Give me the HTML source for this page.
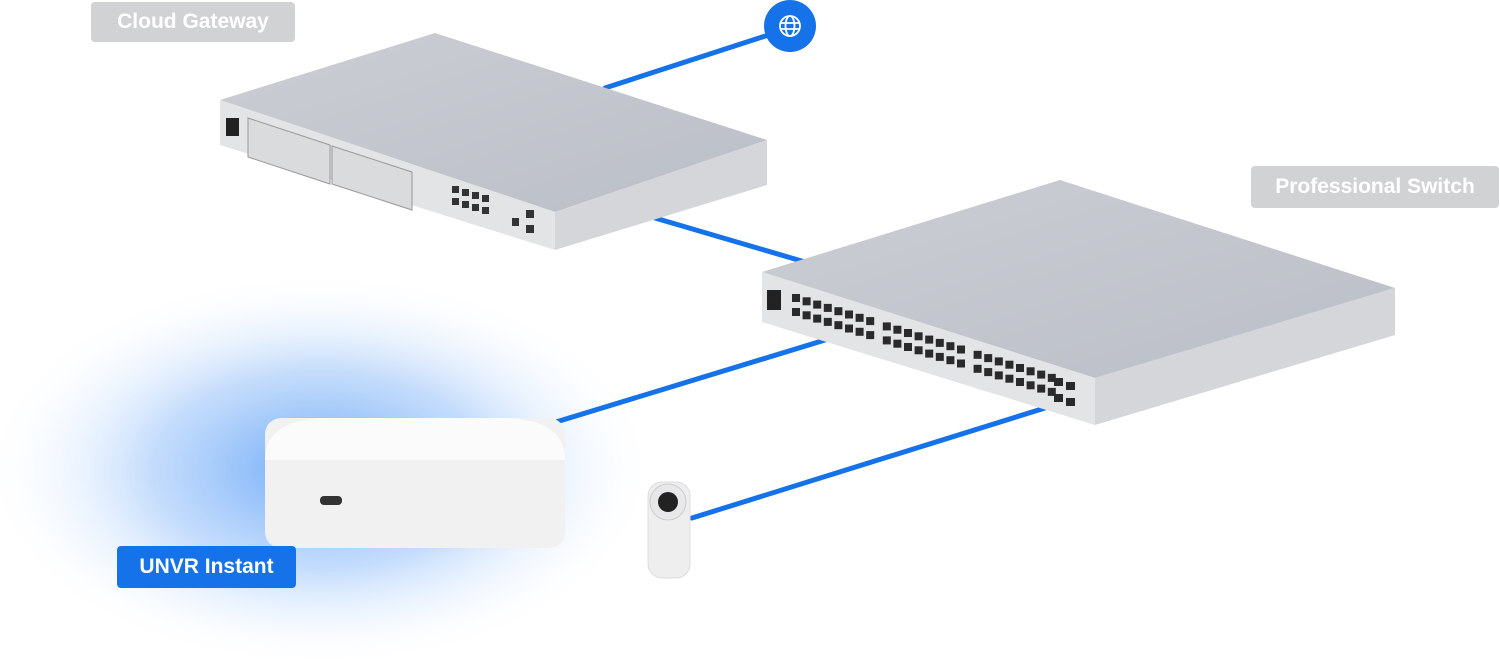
<!DOCTYPE html>
<html><head><style>
html,body{margin:0;padding:0;background:#fff;width:1500px;height:659px;overflow:hidden;font-family:"Liberation Sans",sans-serif}
.lbl{position:absolute;color:#fff;font-size:21px;font-weight:bold;border-radius:4px;display:flex;align-items:center;justify-content:center}
</style></head><body>
<svg width="1500" height="659" style="position:absolute;left:0;top:0">
<defs>
<radialGradient id="glow" cx="50%" cy="50%" r="50%">
<stop offset="0" stop-color="#3b8cf5" stop-opacity="0.75"/>
<stop offset="0.5" stop-color="#7fb3f8" stop-opacity="0.45"/>
<stop offset="1" stop-color="#ffffff" stop-opacity="0"/>
</radialGradient>
<linearGradient id="top1" x1="0" y1="0" x2="1" y2="1"><stop offset="0" stop-color="#ccced5"/><stop offset="1" stop-color="#babec6"/></linearGradient>
</defs>
<ellipse cx="320" cy="470" rx="340" ry="200" fill="url(#glow)"/>
<g stroke="#1572e8" stroke-width="5" stroke-linecap="round">
<line x1="790" y1="28" x2="605" y2="88"/>
<line x1="655" y1="218" x2="805" y2="262"/>
<line x1="825" y1="340" x2="497" y2="440"/>
<line x1="1045" y1="408" x2="692" y2="518"/>
</g>
<circle cx="790" cy="26" r="26" fill="#1572e8"/>
<g fill="none" stroke="#fff" stroke-width="1.8"><circle cx="790" cy="26" r="10"/><ellipse cx="790" cy="26" rx="4.5" ry="10"/><line x1="780" y1="23" x2="800" y2="23"/><line x1="780" y1="29" x2="800" y2="29"/></g>
<polygon points="220,100 435,33 767,140 555,212" fill="url(#top1)"/>
<polygon points="220,100 555,212 555,250 220,145" fill="#e3e4e6"/>
<polygon points="555,212 767,140 767,185 555,250" fill="#d4d6da"/>
<rect x="226" y="118" width="13" height="18" fill="#222"/>
<polygon points="248,118 330,145 330,184 248,157" fill="#dadbdd" stroke="#999" stroke-width="1"/>
<polygon points="332,146 412,172 412,210 332,184" fill="#dadbdd" stroke="#999" stroke-width="1"/>
<g fill="#333"><rect x="452" y="186" width="7" height="7"/><rect x="462" y="189" width="7" height="7"/><rect x="472" y="192" width="7" height="7"/><rect x="482" y="195" width="7" height="7"/><rect x="452" y="198" width="7" height="7"/><rect x="462" y="201" width="7" height="7"/><rect x="472" y="204" width="7" height="7"/><rect x="482" y="207" width="7" height="7"/><rect x="512" y="218" width="7" height="8"/><rect x="526" y="210" width="8" height="8"/><rect x="526" y="225" width="8" height="8"/></g>
<polygon points="762,272 1060,180 1395,288 1095,378" fill="url(#top1)"/>
<polygon points="762,272 1095,378 1095,425 762,322" fill="#e3e4e6"/>
<polygon points="1095,378 1395,288 1395,335 1095,425" fill="#d4d6da"/>
<rect x="767" y="290" width="14" height="20" fill="#222"/>
<g id="ports" fill="#2a2a2a"></g>
<rect x="265" y="418" width="300" height="130" rx="16" fill="#f1f1f2"/>
<path d="M265,460 Q265,418 330,418 L500,418 Q565,418 565,460 Z" fill="#fbfbfb"/>
<rect x="320" y="496" width="22" height="9" rx="4" fill="#333"/>
<rect x="648" y="482" width="42" height="96" rx="14" fill="#eeeeef" stroke="#ddd"/>
<circle cx="668" cy="502" r="18" fill="#e8e8ea" stroke="#ccc"/>
<circle cx="668" cy="502" r="10" fill="#222"/>
</svg>
<div class="lbl" style="left:91px;top:2px;width:204px;height:40px;background:#d1d2d4">Cloud Gateway</div>
<div class="lbl" style="left:1251px;top:166px;width:248px;height:42px;background:#d1d2d4">Professional Switch</div>
<div class="lbl" style="left:117px;top:546px;width:179px;height:42px;background:#1572e8">UNVR Instant</div>
<script>
var g=document.getElementById('ports'),s='';
for(var i=0;i<24;i++){var x=792+i*10.6+Math.floor(i/8)*6,y=294+i*3.3+Math.floor(i/8)*2;
s+='<rect x="'+x+'" y="'+y+'" width="8" height="8"/><rect x="'+x+'" y="'+(y+14)+'" width="8" height="8"/>';}
s+='<rect x="1054" y="378" width="9" height="8"/><rect x="1066" y="382" width="9" height="8"/><rect x="1054" y="394" width="9" height="8"/><rect x="1066" y="398" width="9" height="8"/>';
g.innerHTML=s;
</script>
</body></html>
